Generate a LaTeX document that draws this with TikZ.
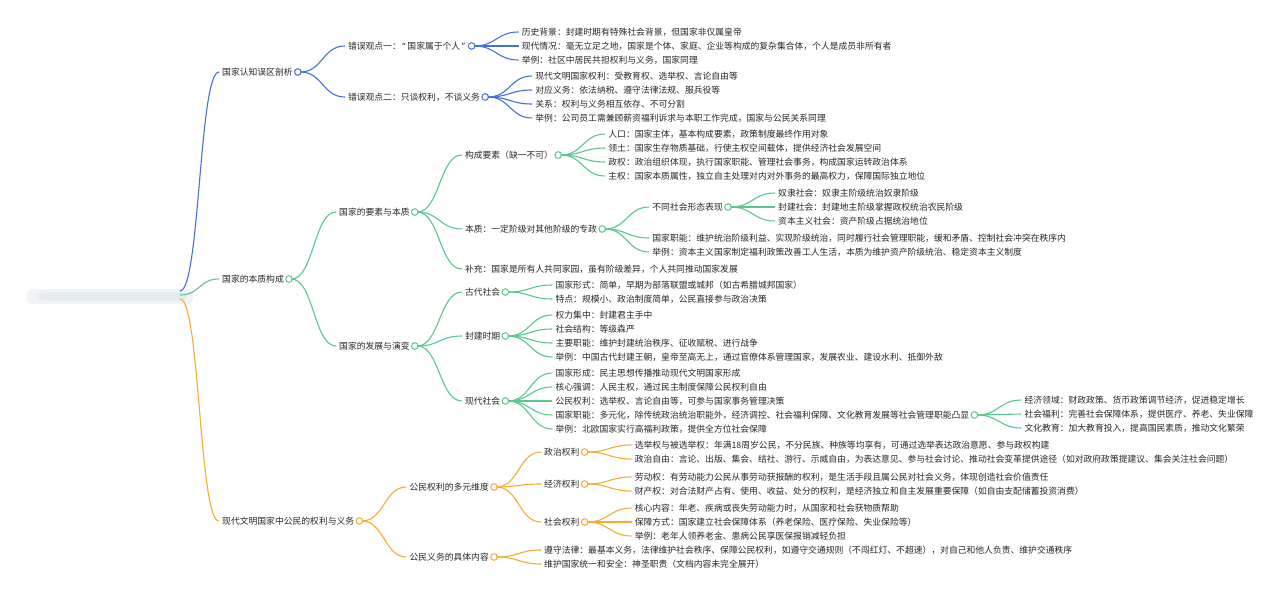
\documentclass[tikz,border=0pt]{standalone}
\usepackage{fontspec}
\setmainfont{Noto Sans CJK SC}
\newfontfamily\qfont{Noto Sans}
\definecolor{mblue}{RGB}{70,112,218}
\definecolor{mgreen}{RGB}{90,200,142}
\definecolor{morange}{RGB}{245,172,52}
\definecolor{txtcol}{RGB}{40,40,40}
\definecolor{blurcol}{RGB}{214,226,228}
\newcommand\mmfont{\fontsize{8.8}{10}\selectfont}
\newcommand\mmkid[5]{%
  \path (#2-knob) ++(50,0) coordinate (#1-pos);
  \node[txt] (#1) at (#1-pos |- 0,#3) {#5};
  \draw[#4] ([xshift=2.6]#2-knob) .. controls +(22,0) and +(-22,0) .. ([xshift=-3]#1.west);}
\newcommand\mmknob[2]{%
  \coordinate (#1-knob) at ([xshift=5]#1.east);
  \node[knobb=#2] (#1-ring) at (#1-knob) {};}
\tikzset{
  txt/.style={anchor=west, inner sep=0pt, font=\mmfont, text=txtcol},
  bl/.style={draw=mblue, line width=1.1pt},
  gr/.style={draw=mgreen, line width=1.1pt},
  og/.style={draw=morange, line width=1.1pt},
  knobb/.style={circle, draw=#1, fill=white, line width=1pt, minimum size=6.6pt, inner sep=0pt},
  rootbox/.style={rounded corners=6pt, fill=blurcol, opacity=0.35, minimum width=166pt, minimum height=15pt, inner sep=0pt}
}
\begin{document}
\begin{tikzpicture}[x=1pt,y=-1pt]
\useasboundingbox[fill=white] (0,0) rectangle (1280,596);
% blurred root
\node[rootbox] (root) at (110,296.5) {};
\node[rootbox, minimum width=150pt, minimum height=8pt, opacity=0.4] (rootin) at (112,296.5) {};
\coordinate (rA) at (180,291);
\coordinate (rB) at (180,295);
\coordinate (rC) at (180,299);

% ===== level 1 =====
\node[txt] (A) at (222,72) {国家认知误区剖析};
\node[txt] (B) at (222,279) {国家的本质构成};
\node[txt] (C) at (222,521) {现代文明国家中公民的权利与义务};
\draw[bl] (rA) .. controls +(20,0) and +(-20,0) .. ([xshift=-3]A.west);
\draw[gr] (rB) .. controls +(20,0) and +(-20,0) .. ([xshift=-3]B.west);
\draw[og] (rC) .. controls +(20,0) and +(-20,0) .. ([xshift=-3]C.west);
\mmknob{A}{mblue}
\mmknob{B}{mgreen}
\mmknob{C}{morange}

% ===== A =====
\mmkid{Aa}{A}{46}{bl}{错误观点一：\kern1.5pt{\qfont “}\kern2pt 国家属于个人\kern1.5pt{\qfont ”}\kern1.5pt}
\mmkid{Ab}{A}{97}{bl}{错误观点二：只谈权利，不谈义务}
\mmknob{Aa}{mblue}
\mmknob{Ab}{mblue}
\mmkid{Aaa}{Aa}{32}{bl}{历史背景：封建时期有特殊社会背景，但国家非仅属皇帝}
\mmkid{Aab}{Aa}{46}{bl}{现代情况：毫无立足之地，国家是个体、家庭、企业等构成的复杂集合体，个人是成员非所有者}
\mmkid{Aac}{Aa}{60}{bl}{举例：社区中居民共担权利与义务，国家同理}
\mmkid{Aba}{Ab}{76}{bl}{现代文明国家权利：受教育权、选举权、言论自由等}
\mmkid{Abb}{Ab}{90}{bl}{对应义务：依法纳税、遵守法律法规、服兵役等}
\mmkid{Abc}{Ab}{104}{bl}{关系：权利与义务相互依存、不可分割}
\mmkid{Abd}{Ab}{118}{bl}{举例：公司员工需兼顾薪资福利诉求与本职工作完成，国家与公民关系同理}

% ===== B =====
\mmkid{Ba}{B}{212}{gr}{国家的要素与本质}
\mmkid{Bb}{B}{346}{gr}{国家的发展与演变}
\mmknob{Ba}{mgreen}
\mmknob{Bb}{mgreen}
\mmkid{Baa}{Ba}{155}{gr}{构成要素（缺一不可）}
\mmkid{Bab}{Ba}{229}{gr}{本质：一定阶级对其他阶级的专政}
\mmkid{Bac}{Ba}{269}{gr}{补充：国家是所有人共同家园，虽有阶级差异，个人共同推动国家发展}
\mmknob{Baa}{mgreen}
\mmknob{Bab}{mgreen}
\mmkid{Baaa}{Baa}{134}{gr}{人口：国家主体，基本构成要素，政策制度最终作用对象}
\mmkid{Baab}{Baa}{148}{gr}{领土：国家生存物质基础，行使主权空间载体，提供经济社会发展空间}
\mmkid{Baac}{Baa}{162}{gr}{政权：政治组织体现，执行国家职能、管理社会事务，构成国家运转政治体系}
\mmkid{Baad}{Baa}{176}{gr}{主权：国家本质属性，独立自主处理对内对外事务的最高权力，保障国际独立地位}
\mmkid{Baba}{Bab}{207}{gr}{不同社会形态表现}
\mmkid{Babb}{Bab}{238}{gr}{国家职能：维护统治阶级利益、实现阶级统治，同时履行社会管理职能，缓和矛盾、控制社会冲突在秩序内}
\mmkid{Babc}{Bab}{252}{gr}{举例：资本主义国家制定福利政策改善工人生活，本质为维护资产阶级统治、稳定资本主义制度}
\mmknob{Baba}{mgreen}
\mmkid{Babaa}{Baba}{193}{gr}{奴隶社会：奴隶主阶级统治奴隶阶级}
\mmkid{Babab}{Baba}{207}{gr}{封建社会：封建地主阶级掌握政权统治农民阶级}
\mmkid{Babac}{Baba}{221}{gr}{资本主义社会：资产阶级占据统治地位}

\mmkid{Bba}{Bb}{292}{gr}{古代社会}
\mmkid{Bbb}{Bb}{336}{gr}{封建时期}
\mmkid{Bbc}{Bb}{401}{gr}{现代社会}
\mmknob{Bba}{mgreen}
\mmknob{Bbb}{mgreen}
\mmknob{Bbc}{mgreen}
\mmkid{Bbaa}{Bba}{285}{gr}{国家形式：简单，早期为部落联盟或城邦（如古希腊城邦国家）}
\mmkid{Bbab}{Bba}{299}{gr}{特点：规模小、政治制度简单，公民直接参与政治决策}
\mmkid{Bbba}{Bbb}{315}{gr}{权力集中：封建君主手中}
\mmkid{Bbbb}{Bbb}{329}{gr}{社会结构：等级森严}
\mmkid{Bbbc}{Bbb}{343}{gr}{主要职能：维护封建统治秩序、征收赋税、进行战争}
\mmkid{Bbbd}{Bbb}{357}{gr}{举例：中国古代封建王朝，皇帝至高无上，通过官僚体系管理国家，发展农业、建设水利、抵御外敌}
\mmkid{Bbca}{Bbc}{373}{gr}{国家形成：民主思想传播推动现代文明国家形成}
\mmkid{Bbcb}{Bbc}{387}{gr}{核心强调：人民主权，通过民主制度保障公民权利自由}
\mmkid{Bbcc}{Bbc}{401}{gr}{公民权利：选举权、言论自由等，可参与国家事务管理决策}
\mmkid{Bbcd}{Bbc}{415}{gr}{国家职能：多元化，除传统政治统治职能外，经济调控、社会福利保障、文化教育发展等社会管理职能凸显}
\mmkid{Bbce}{Bbc}{429}{gr}{举例：北欧国家实行高福利政策，提供全方位社会保障}
\mmknob{Bbcd}{mgreen}
\mmkid{Bbcda}{Bbcd}{400}{gr}{经济领域：财政政策、货币政策调节经济，促进稳定增长}
\mmkid{Bbcdb}{Bbcd}{414}{gr}{社会福利：完善社会保障体系，提供医疗、养老、失业保障}
\mmkid{Bbcdc}{Bbcd}{428}{gr}{文化教育：加大教育投入，提高国民素质，推动文化繁荣}

% ===== C =====
\mmkid{Ca}{C}{487}{og}{公民权利的多元维度}
\mmkid{Cb}{C}{557}{og}{公民义务的具体内容}
\mmknob{Ca}{morange}
\mmknob{Cb}{morange}
\mmkid{Caa}{Ca}{452}{og}{政治权利}
\mmkid{Cab}{Ca}{484}{og}{经济权利}
\mmkid{Cac}{Ca}{522}{og}{社会权利}
\mmknob{Caa}{morange}
\mmknob{Cab}{morange}
\mmknob{Cac}{morange}
\mmkid{Caaa}{Caa}{445}{og}{选举权与被选举权：年满18周岁公民，不分民族、种族等均享有，可通过选举表达政治意愿、参与政权构建}
\mmkid{Caab}{Caa}{459}{og}{政治自由：言论、出版、集会、结社、游行、示威自由，为表达意见、参与社会讨论、推动社会变革提供途径（如对政府政策提建议、集会关注社会问题）}
\mmkid{Caba}{Cab}{477}{og}{劳动权：有劳动能力公民从事劳动获报酬的权利，是生活手段且属公民对社会义务，体现创造社会价值责任}
\mmkid{Cabb}{Cab}{491}{og}{财产权：对合法财产占有、使用、收益、处分的权利，是经济独立和自主发展重要保障（如自由支配储蓄投资消费）}
\mmkid{Caca}{Cac}{508}{og}{核心内容：年老、疾病或丧失劳动能力时，从国家和社会获物质帮助}
\mmkid{Cacb}{Cac}{522}{og}{保障方式：国家建立社会保障体系（养老保险、医疗保险、失业保险等）}
\mmkid{Cacc}{Cac}{536}{og}{举例：老年人领养老金、患病公民享医保报销减轻负担}
\mmkid{Cba}{Cb}{550}{og}{遵守法律：最基本义务，法律维护社会秩序、保障公民权利，如遵守交通规则（不闯红灯、不超速），对自己和他人负责、维护交通秩序}
\mmkid{Cbb}{Cb}{564}{og}{维护国家统一和安全：神圣职责（文档内容未完全展开）}
\end{tikzpicture}
\end{document}
